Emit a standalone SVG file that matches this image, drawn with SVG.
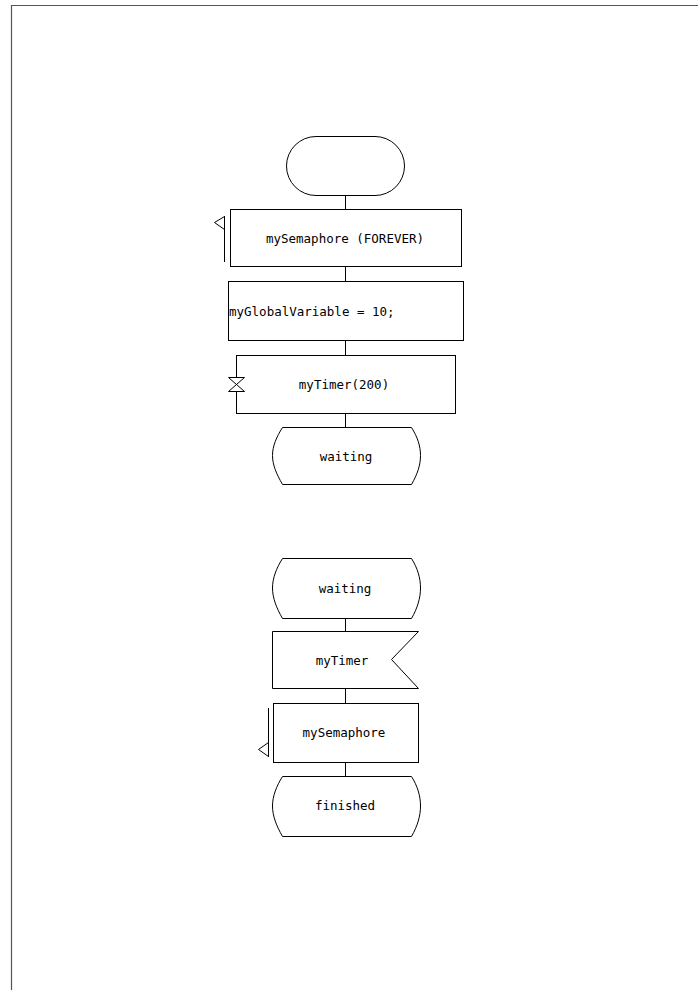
<svg xmlns="http://www.w3.org/2000/svg" width="698" height="990" viewBox="0 0 698 990">
<style>
.s{fill:#fff;stroke:#000;stroke-width:1}
.l{fill:none;stroke:#000;stroke-width:1}
.t{font-family:"DejaVu Sans Mono","Liberation Mono",monospace;font-size:12.5px;fill:#000}
.c{text-anchor:middle}
</style>
<rect x="0" y="0" width="698" height="990" fill="#fff"/>
<path d="M11.5,990 V5.5 H698" fill="none" stroke="#555" stroke-width="1.2"/>
<g id="connectors" class="l">
<path d="M345.5,196 V210"/>
<path d="M345.5,266 V281"/>
<path d="M345.5,341 V355"/>
<path d="M345.5,414 V427"/>
<path d="M345.5,618 V632"/>
<path d="M345.5,688 V703"/>
<path d="M345.5,762 V777"/>
</g>
<g id="start">
<rect class="s" x="286.5" y="136.5" width="118" height="59" rx="29.5" ry="29.5"/>
</g>
<g id="sem1">
<rect class="s" x="230.5" y="209.5" width="231" height="57"/>
<path class="l" d="M224.5,216 V262 M224.5,216.5 L214.5,222.5 L224.5,229.5"/>
<text class="t c" x="345" y="243">mySemaphore (FOREVER)</text>
</g>
<g id="task">
<rect class="s" x="228.5" y="281.5" width="235" height="59"/>
<text class="t" x="229" y="316">myGlobalVariable = 10;</text>
</g>
<g id="timer">
<rect class="s" x="236.5" y="355.5" width="219" height="58"/>
<path fill="#fff" stroke="none" d="M230,378 H243 V391 H230 Z"/>
<path class="l" d="M228.5,377.5 H244.5 L228.5,391.5 H244.5 Z"/>
<text class="t c" x="344" y="389">myTimer(200)</text>
</g>
<g id="state1">
<path class="s" d="M282.5,427.5 H411.5 C417.5,437 420.5,446 420.5,455.5 C420.5,465 417.5,474 411.5,484.5 H282.5 C276.5,474 272.5,465 272.5,455.5 C272.5,446 276.5,437 282.5,427.5 Z"/>
<text class="t c" x="346" y="461">waiting</text>
</g>
<g id="state2">
<path class="s" d="M282.5,558.5 H411.5 C417.5,568 420.5,578 420.5,588 C420.5,598 417.5,608 411.5,618.5 H282.5 C276.5,608 272.5,598 272.5,588 C272.5,578 276.5,568 282.5,558.5 Z"/>
<text class="t c" x="345" y="593">waiting</text>
</g>
<g id="input">
<path class="s" d="M272.5,631.5 H418.5 L391.5,659.5 L418.5,688.5 H272.5 Z"/>
<text class="t c" x="342" y="665">myTimer</text>
</g>
<g id="sem2">
<rect class="s" x="273.5" y="703.5" width="145" height="59"/>
<path class="l" d="M268.5,708 V757 M268.5,742.5 L258.5,749.5 L268.5,756.5"/>
<text class="t c" x="344" y="737">mySemaphore</text>
</g>
<g id="state3">
<path class="s" d="M282.5,776.5 H411.5 C417.5,786 420.5,796 420.5,806 C420.5,816 417.5,826 411.5,836.5 H282.5 C276.5,826 272.5,816 272.5,806 C272.5,796 276.5,786 282.5,776.5 Z"/>
<text class="t c" x="345" y="810">finished</text>
</g>
</svg>
